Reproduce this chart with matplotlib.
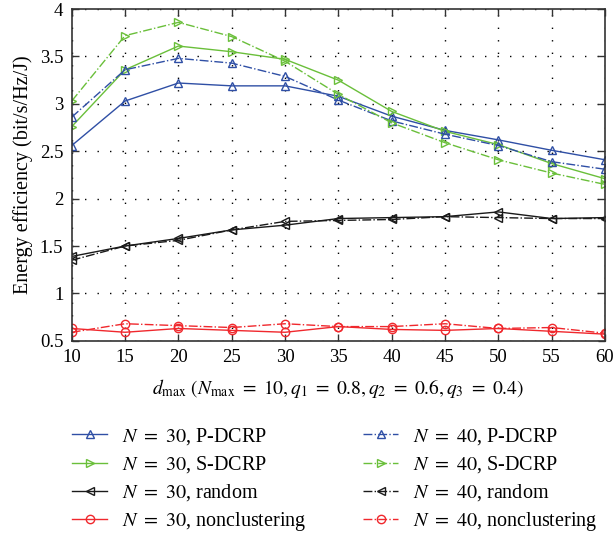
import matplotlib
matplotlib.use("Agg")
import matplotlib.pyplot as plt

plt.rcParams['font.family'] = ['Liberation Serif', 'DejaVu Serif']
plt.rcParams['mathtext.fontset'] = 'stix'

d_max = [10, 15, 20, 25, 30, 35, 40, 45, 50, 55, 60]

p_dcrp_30 = [2.56, 3.03, 3.22, 3.19, 3.19, 3.08, 2.87, 2.72, 2.62, 2.51, 2.41]
p_dcrp_40 = [2.86, 3.36, 3.48, 3.43, 3.29, 3.04, 2.82, 2.68, 2.56, 2.39, 2.31]
s_dcrp_30 = [2.76, 3.36, 3.61, 3.55, 3.47, 3.25, 2.92, 2.71, 2.57, 2.37, 2.21]
s_dcrp_40 = [3.03, 3.72, 3.86, 3.71, 3.45, 3.10, 2.80, 2.59, 2.41, 2.27, 2.15]
random_30 = [1.39, 1.50, 1.58, 1.67, 1.72, 1.79, 1.80, 1.81, 1.86, 1.79, 1.80]
random_40 = [1.35, 1.50, 1.56, 1.67, 1.76, 1.77, 1.78, 1.81, 1.80, 1.79, 1.79]
noncl_30 = [0.63, 0.59, 0.63, 0.61, 0.59, 0.65, 0.62, 0.61, 0.63, 0.60, 0.57]
noncl_40 = [0.59, 0.68, 0.66, 0.64, 0.68, 0.65, 0.65, 0.68, 0.63, 0.64, 0.58]

blue = '#2f4fa5'
green = '#6abf3a'
black = '#1a1a1a'
red = '#f0282d'

fig = plt.figure(figsize=(6.13, 5.35), dpi=100)
ax = fig.add_axes([0.117, 0.363, 0.870, 0.620])

series30 = [
    (p_dcrp_30, blue, '^', r'$N\ =\ 30$, P-DCRP'),
    (s_dcrp_30, green, '>', r'$N\ =\ 30$, S-DCRP'),
    (random_30, black, '<', r'$N\ =\ 30$, random'),
    (noncl_30, red, 'o', r'$N\ =\ 30$, nonclustering'),
]
series40 = [
    (p_dcrp_40, blue, '^', r'$N\ =\ 40$, P-DCRP'),
    (s_dcrp_40, green, '>', r'$N\ =\ 40$, S-DCRP'),
    (random_40, black, '<', r'$N\ =\ 40$, random'),
    (noncl_40, red, 'o', r'$N\ =\ 40$, nonclustering'),
]

def draw(group, ls):
    out = []
    for vals, c, m, lab in group:
        ln, = ax.plot(d_max, vals, color=c, marker=m, linestyle=ls, linewidth=1.0,
                      markersize=6, markerfacecolor='none', markeredgecolor=c,
                      markeredgewidth=1.0, label=lab)
        out.append(ln)
    return out

h30 = draw(series30, '-')
h40 = draw(series40, '-.')

ax.set_xlim(10, 60)
ax.set_ylim(0.5, 4)
ax.set_xticks(range(10, 61, 5))
ax.set_yticks([0.5, 1, 1.5, 2, 2.5, 3, 3.5, 4])
ax.set_yticklabels(['0.5', '1', '1.5', '2', '2.5', '3', '3.5', '4'])
ax.grid(True, color='black', linestyle=(0, (1, 8)), linewidth=1.0)
ax.tick_params(direction='in', top=True, right=True, length=5, width=1.0,
               labelsize=13.5, pad=6, color='#333333')
for s in ax.spines.values():
    s.set_color('#333333')
    s.set_linewidth(1.2)

ax.set_ylabel('Energy efficiency (bit/s/Hz/J)', fontsize=14.5, labelpad=5)
ax.set_xlabel(r'$d_{\max}\ (N_{\max}\ =\ 10, q_1\ =\ 0.8, q_2\ =\ 0.6, q_3\ =\ 0.4)$',
              fontsize=14, labelpad=8)

leg_kw = dict(loc='upper left', frameon=False, fontsize=14.5, handlelength=1.75,
              handletextpad=0.72, labelspacing=0.36, borderpad=0,
              borderaxespad=0)
leg1 = fig.legend(handles=h30, bbox_to_anchor=(72 / 613, 1 - 426 / 535), **leg_kw)
leg2 = fig.legend(handles=h40, bbox_to_anchor=(363 / 613, 1 - 426 / 535), **leg_kw)

fig.savefig('out.png', dpi=100)
